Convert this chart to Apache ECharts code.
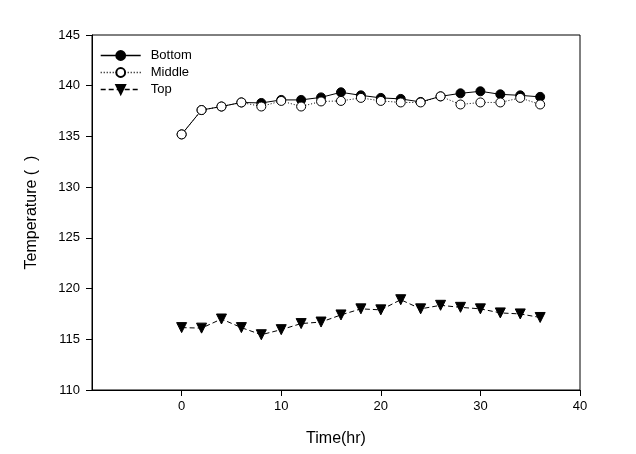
<!DOCTYPE html>
<html>
<head>
<meta charset="utf-8">
<script src="https://cdn.jsdelivr.net/npm/echarts@6/dist/echarts.min.js"></script>
<style>html,body{margin:0;padding:0;background:#fff;}#c{width:636px;height:454px;}</style>
</head>
<body>
<div id="c"></div>
<script>
var times = [0, 2, 4, 6, 8, 10, 12, 14, 16, 18, 20, 22, 24, 26, 28, 30, 32, 34, 36];
var bottom = [135.2, 137.6, 137.95, 138.35, 138.3, 138.6, 138.6, 138.85, 139.35, 139.05, 138.8, 138.7, 138.4, 138.95, 139.25, 139.45, 139.15, 139.05, 138.9];
var middle = [135.2, 137.6, 137.95, 138.35, 137.95, 138.5, 137.95, 138.45, 138.5, 138.8, 138.5, 138.35, 138.35, 138.95, 138.15, 138.35, 138.35, 138.8, 138.15];
var top_ = [116.15, 116.1, 117.0, 116.15, 115.45, 115.95, 116.55, 116.7, 117.4, 118.0, 117.9, 118.9, 118.0, 118.35, 118.15, 118.0, 117.6, 117.5, 117.15];
var xTicks = [0, 10, 20, 30, 40];
var seriesNames = ['Bottom', 'Middle', 'Top'];

function pairs(ys) { return times.map(function (t, i) { return [t, ys[i]]; }); }

var font = 'Liberation Sans, Arial, sans-serif';
var chart = echarts.init(document.getElementById('c'), null, { renderer: 'canvas' });
chart.setOption({
  animation: false,
  backgroundColor: '#fff',
  textStyle: { fontFamily: font, color: '#000' },
  grid: { left: 92, right: 56, top: 35, bottom: 64, show: true, borderColor: '#000', borderWidth: 1, backgroundColor: 'transparent' },
  legend: {
    orient: 'vertical', left: 100, top: 49, padding: 0, itemWidth: 40, itemHeight: 11, itemGap: 4,
    data: seriesNames,
    lineStyle: { width: 1.4, color: '#000' },
    textStyle: { fontFamily: font, fontSize: 13, color: '#000', padding: [0, 0, 0, 5] }
  },
  xAxis: {
    type: 'value', min: -9, max: 40,
    name: 'Time(hr)', nameLocation: 'middle', nameGap: 41,
    nameTextStyle: { fontFamily: font, fontSize: 16, color: '#000' },
    axisLine: { show: true, onZero: false, lineStyle: { color: '#000', width: 1 } },
    axisTick: { show: true, inside: false, length: 6, customValues: xTicks, lineStyle: { color: '#000' } },
    axisLabel: { customValues: xTicks, margin: 10, fontFamily: font, fontSize: 13, color: '#000' },
    splitLine: { show: false }
  },
  yAxis: {
    type: 'value', min: 110, max: 145, interval: 5,
    name: 'Temperature (  )', nameLocation: 'middle', nameGap: 52, nameRotate: 90,
    nameTextStyle: { fontFamily: font, fontSize: 16, color: '#000' },
    axisLine: { show: true, onZero: false, lineStyle: { color: '#000', width: 1 } },
    axisTick: { show: true, inside: false, length: 6, lineStyle: { color: '#000' } },
    axisLabel: { margin: 12, fontFamily: font, fontSize: 13, color: '#000' },
    splitLine: { show: false }
  },
  series: [
    {
      name: seriesNames[0], type: 'line', data: pairs(bottom), z: 3,
      symbol: 'circle', symbolSize: 9,
      lineStyle: { color: '#000', width: 1, type: 'solid' },
      itemStyle: { color: '#000', borderColor: '#000', borderWidth: 1 }
    },
    {
      name: seriesNames[1], type: 'line', data: pairs(middle), z: 4,
      symbol: 'circle', symbolSize: 9,
      lineStyle: { color: '#000', width: 1, type: [1, 2] },
      itemStyle: { color: '#fff', borderColor: '#000', borderWidth: 1 }
    },
    {
      name: seriesNames[2], type: 'line', data: pairs(top_), z: 3,
      symbol: 'triangle', symbolRotate: 180, symbolSize: 10,
      lineStyle: { color: '#000', width: 1, type: [5, 3] },
      itemStyle: { color: '#000', borderColor: '#000', borderWidth: 1 }
    }
  ]
});
</script>
</body>
</html>
